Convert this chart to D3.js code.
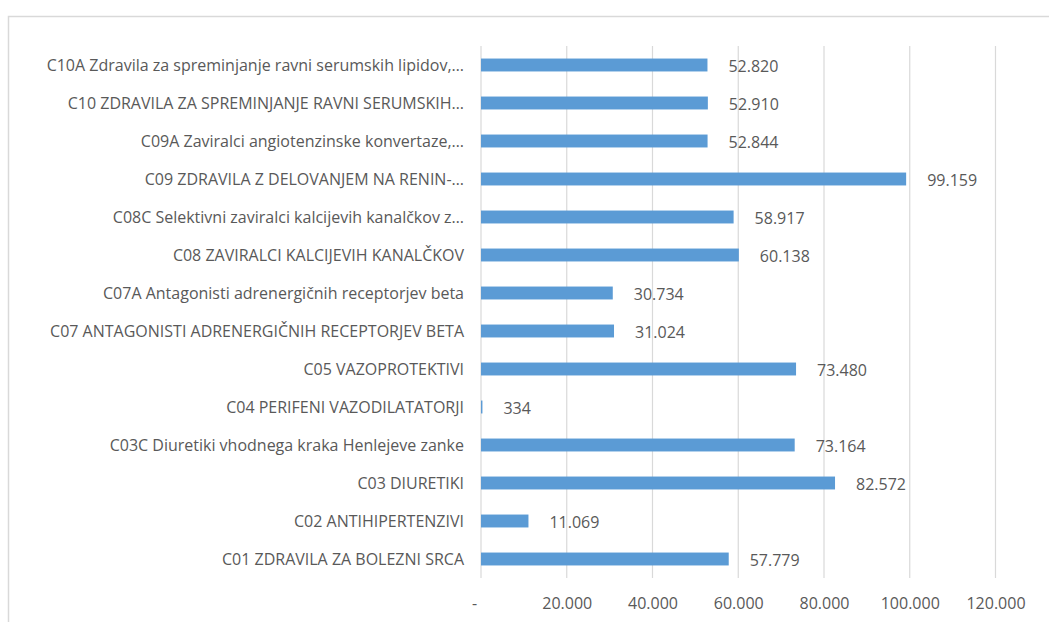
<!DOCTYPE html>
<html><head><meta charset="utf-8">
<script src="https://cdn.jsdelivr.net/npm/d3@7"></script>
<style>
html,body{margin:0;padding:0;background:#fff;}
svg{display:block;font-family:"Open Sans",sans-serif;}
</style></head>
<body><svg id="chart" width="1049" height="622"></svg>
<script>
const categories = [
  "C01 ZDRAVILA ZA BOLEZNI SRCA",
  "C02 ANTIHIPERTENZIVI",
  "C03 DIURETIKI",
  "C03C Diuretiki vhodnega kraka Henlejeve zanke",
  "C04 PERIFENI VAZODILATATORJI",
  "C05 VAZOPROTEKTIVI",
  "C07 ANTAGONISTI ADRENERGIČNIH RECEPTORJEV BETA",
  "C07A Antagonisti adrenergičnih receptorjev beta",
  "C08 ZAVIRALCI KALCIJEVIH KANALČKOV",
  "C08C Selektivni zaviralci kalcijevih kanalčkov z…",
  "C09 ZDRAVILA Z DELOVANJEM NA RENIN-…",
  "C09A Zaviralci angiotenzinske konvertaze,…",
  "C10 ZDRAVILA ZA SPREMINJANJE RAVNI SERUMSKIH…",
  "C10A Zdravila za spreminjanje ravni serumskih lipidov,…"
];
const values = [57779, 11069, 82572, 73164, 334, 73480, 31024, 30734, 60138, 58917, 99159, 52844, 52910, 52820];
const tickValues = [0, 20000, 40000, 60000, 80000, 100000, 120000];

const svg = d3.select("#chart");
const W = 1049, H = 622;
const plot = {left: 481, right: 995.5, top: 46, bottom: 578};
const textColor = "#595959", gridColor = "#d9d9d9", barColor = "#5b9bd5";

// chart border (cropped: top and left visible)
svg.append("path")
  .attr("d", `M8.5,${H+2} L8.5,16.5 L${W+2},16.5`)
  .attr("fill", "none").attr("stroke", gridColor).attr("stroke-width", 1.5);

const x = d3.scaleLinear().domain([0, 120000]).range([plot.left, plot.right]);
const y = d3.scaleBand().domain(categories.slice().reverse())
  .range([plot.top, plot.bottom]).paddingInner(0.66).paddingOuter(0.33);

const fmt = v => v === 0 ? "-" : d3.format(",")(v).replace(/,/g, ".");

// gridlines
svg.append("g").selectAll("line").data(tickValues).join("line")
  .attr("x1", d => x(d)).attr("x2", d => x(d))
  .attr("y1", plot.top).attr("y2", plot.bottom)
  .attr("stroke", gridColor).attr("stroke-width", 1.2);

// x axis tick labels
const xAxis = d3.axisBottom(x).tickValues(tickValues).tickFormat(fmt).tickSize(0).tickPadding(0);
const gx = svg.append("g").attr("transform", `translate(0,${plot.bottom + 20})`).call(xAxis);
gx.select(".domain").remove();
gx.selectAll("text").attr("fill", textColor).attr("font-size", 16)
  .attr("font-family", '"Open Sans",sans-serif')
  .attr("dx", d => d === 0 ? -7 : 0);

// y axis category labels
const yAxis = d3.axisLeft(y).tickSize(0).tickPadding(0);
const gy = svg.append("g").attr("transform", `translate(${plot.left - 17},0)`).call(yAxis);
gy.select(".domain").remove();
gy.selectAll("text").attr("fill", textColor).attr("font-size", 16)
  .attr("font-family", '"Open Sans",sans-serif').attr("dy", "0.4em");

// bars
const data = categories.map((c, i) => ({c, v: values[i]}));
svg.append("g").selectAll("rect").data(data).join("rect")
  .attr("x", x(0)).attr("y", d => y(d.c))
  .attr("width", d => x(d.v) - x(0)).attr("height", y.bandwidth())
  .attr("fill", barColor);

// data labels
svg.append("g").selectAll("text").data(data).join("text")
  .attr("x", d => x(d.v) + 21)
  .attr("y", d => y(d.c) + y.bandwidth() / 2)
  .attr("dy", "0.45em")
  .attr("fill", textColor).attr("font-size", 16)
  .text(d => fmt(d.v));
</script></body></html>
